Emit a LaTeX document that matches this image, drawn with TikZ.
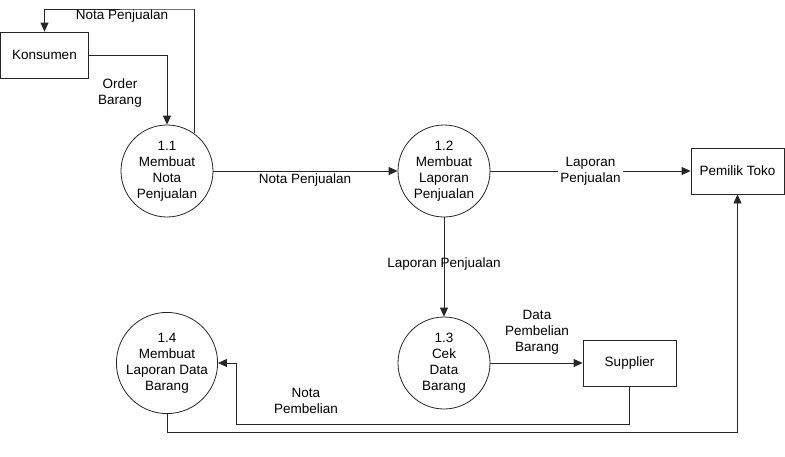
\documentclass[tikz,border=0pt]{standalone}
\usepackage{fontspec}
\setmainfont{Liberation Sans}
\usetikzlibrary{
	arrows.meta,
	positioning,
	calc,
}

\begin{document}
\begin{tikzpicture}[
	x=1pt,y=-1pt,
	>= {Triangle[length=9pt,width=8pt]},line width=0.8pt,black!85,
	text=black,
	font=\fontsize{13.5}{16}\selectfont,
	proc/.style={circle,draw,minimum size=92pt,inner sep=0pt,align=center},
	ext/.style={rectangle,draw,minimum width=93pt,minimum height=46pt,inner sep=2pt},
	lbl/.style={align=center,inner sep=1pt},
	every new ->/.style={shorten >=0pt}
	]
	\useasboundingbox (0,0) rectangle (785,456);

	%% line 1
	\node (kon) [ext,minimum width=88pt] at (44.5,55) {Konsumen};
	\node (n11) [proc] at (167,171) {1.1\\Membuat\\Nota\\Penjualan};
	\node (n12) [proc] at (444,171) {1.2\\Membuat\\Laporan\\Penjualan};
	\node (pem) [ext] at (737.5,171) {Pemilik Toko};

	%% line 2
	\node (n14) [proc] at (167,363) {1.4\\Membuat\\Laporan Data\\Barang};
	\node (n13) [proc] at (444,363) {1.3\\Cek\\Data\\Barang};
	\node (sup) [ext] at (629.5,363) {Supplier};

	%% corner points
	\coordinate (top) at (194,9);
	\coordinate (bend) at (236,424);
	\coordinate (low) at (737.5,432);

	%% labels
	\node (lOrder) [lbl] at (120,93) {Order\\Barang};
	\node (lNota1) [lbl] at (122,16) {Nota Penjualan};
	\node (lNota2) [lbl] at (305,180) {Nota Penjualan};
	\node (lLap1) [lbl] at (444,264) {Laporan Penjualan};
	\node (lData) [lbl] at (537,332) {Data\\Pembelian\\Barang};
	\node (lNotaB) [lbl] at (306,401) {Nota\\Pembelian};

	%% flows
	\draw[->] (kon.east) -| (n11.north);
	\draw[->] (n11.54) |- (top) -| (kon.north);
	\draw[->] (n11.east) -- (n12.west);
	\draw[->] (n12.east) -- node[lbl,fill=white,inner sep=2pt] (lLap2) {Laporan\\Penjualan} (pem.west);
	\draw[->] (n12.south) -- (n13.north);
	\draw[->] (n13.east) -- (sup.west);
	\draw[->] (sup.south) |- (bend) -- (bend |- n14.east) -- (n14.east);
	\draw[->] (n14.south) |- (low) -- (pem.south);

\end{tikzpicture}
\end{document}
